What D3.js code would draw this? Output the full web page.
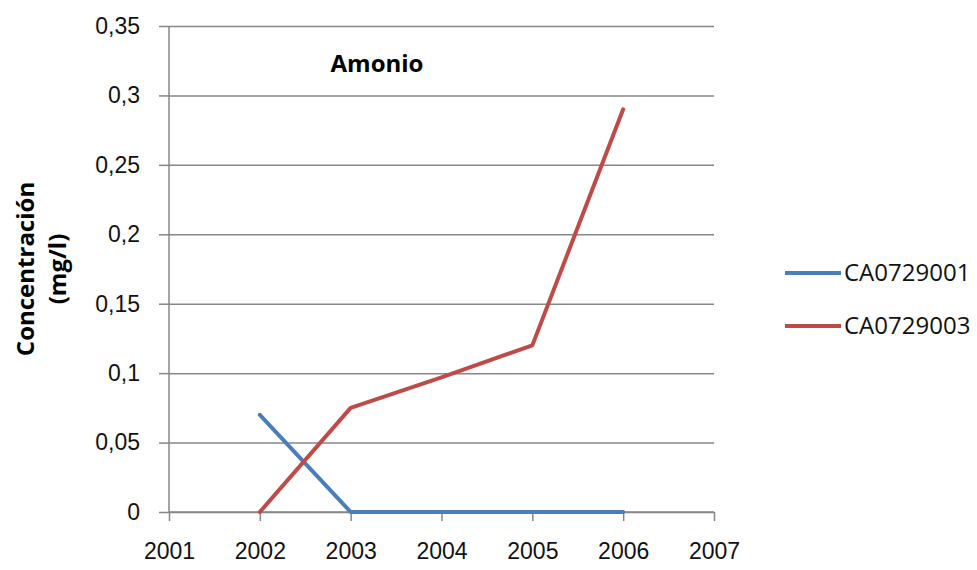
<!DOCTYPE html>
<html>
<head>
<meta charset="utf-8">
<script src="https://cdn.jsdelivr.net/npm/d3@7"></script>
<style>
  body { margin: 0; background: #fff; }
  svg { font-family: "Open Sans", sans-serif; }
  .axis path { display: none; }
  .axis line { stroke: #878787; stroke-width: 1.5; }
  .axis text { fill: #111; font-size: 23px; }
  .grid line { stroke: #878787; stroke-width: 1.5; }
  .grid path, .grid text { display: none; }
</style>
</head>
<body>
<svg id="chart" width="977" height="570"></svg>
<script>
let years = [2001, 2002, 2003, 2004, 2005, 2006, 2007];
let yTicks = [0, 0.05, 0.1, 0.15, 0.2, 0.25, 0.3, 0.35];
let yTickLabels = ["0", "0,05", "0,1", "0,15", "0,2", "0,25", "0,3", "0,35"];
let seriesNames = ["CA0729001", "CA0729003"];
let seriesYears = [2002, 2003, 2004, 2005, 2006];
let valuesA = [0.07, 0, 0, 0, 0];
let valuesB = [0, 0.075, 0.097, 0.12, 0.29];
let colors = ["#4a7ebb", "#be4b48"];

let svg = d3.select("#chart");
let plotLeft = 169, plotRight = 714, plotTop = 26, plotBottom = 512;

let x = d3.scaleLinear().domain([2001, 2007]).range([plotLeft, plotRight]);
let y = d3.scaleLinear().domain([0, 0.35]).range([plotBottom, plotTop]);

// horizontal gridlines
svg.append("g")
    .attr("class", "grid")
    .attr("transform", "translate(" + plotLeft + ",0)")
    .call(d3.axisLeft(y).tickValues(yTicks).tickSize(-(plotRight - plotLeft)).tickFormat(""));

// y axis
let yAxis = svg.append("g")
    .attr("class", "axis")
    .attr("transform", "translate(" + plotLeft + ",0)")
    .call(d3.axisLeft(y).tickValues(yTicks).tickSizeInner(10).tickSizeOuter(0).tickPadding(19)
        .tickFormat(function (d, i) { return yTickLabels[i]; }));
yAxis.append("line")
    .attr("x1", 0).attr("x2", 0).attr("y1", y(0.35)).attr("y2", y(0) + 1)
    .attr("stroke", "#878787").attr("stroke-width", 1.5);

// x axis
let xAxis = svg.append("g")
    .attr("class", "axis")
    .attr("transform", "translate(0," + plotBottom + ")")
    .call(d3.axisBottom(x).tickValues(years).tickSizeInner(9).tickSizeOuter(0).tickPadding(22)
        .tickFormat(d3.format("d")));
xAxis.append("line")
    .attr("x1", plotLeft).attr("x2", plotRight).attr("y1", 0).attr("y2", 0)
    .attr("stroke", "#878787").attr("stroke-width", 1.5);

// lines
let line = d3.line()
    .x(function (d) { return x(d.year); })
    .y(function (d) { return y(d.value); });

[valuesA, valuesB].forEach(function (vals, i) {
    let pts = seriesYears.map(function (yr, j) { return { year: yr, value: vals[j] }; });
    svg.append("path")
        .datum(pts)
        .attr("d", line)
        .attr("fill", "none")
        .attr("stroke", colors[i])
        .attr("stroke-width", 4)
        .attr("stroke-linejoin", "round")
        .attr("stroke-linecap", "round");
});

// title
svg.append("text")
    .attr("x", 377).attr("y", 72)
    .attr("text-anchor", "middle")
    .style("font-size", "24px").style("font-weight", "bold")
    .text("Amonio");

// y title
let yt = svg.append("text")
    .attr("transform", "translate(0,269) rotate(-90)")
    .attr("text-anchor", "middle")
    .style("font-size", "24px").style("font-weight", "bold");
yt.append("tspan").attr("x", 0).attr("y", 34).text("Concentración");
yt.append("tspan").attr("x", 0).attr("y", 66).text("(mg/l)");

// legend
let legend = svg.selectAll(".legend")
    .data(seriesNames)
    .enter().append("g")
    .attr("class", "legend")
    .attr("transform", function (d, i) { return "translate(785," + (273 + i * 53) + ")"; });
legend.append("line")
    .attr("x1", 0).attr("x2", 56).attr("y1", 0).attr("y2", 0)
    .attr("stroke", function (d, i) { return colors[i]; })
    .attr("stroke-width", 4);
legend.append("text")
    .attr("x", 59).attr("y", 8)
    .style("font-size", "24px").attr("fill", "#111")
    .text(function (d) { return d; });
</script>
</body>
</html>
